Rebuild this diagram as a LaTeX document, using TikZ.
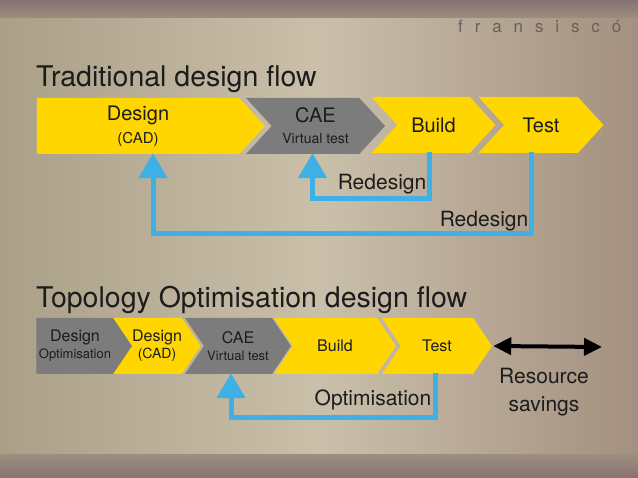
\documentclass[tikz,border=0pt]{standalone}
\usepackage{fontspec}
\setmainfont{TeX Gyre Heros}
\usetikzlibrary{shapes.symbols,arrows.meta}

\definecolor{stageyellow}{RGB}{255,214,0}
\definecolor{stagegrey}{RGB}{124,124,124}
\definecolor{loopblue}{RGB}{62,176,230}
\definecolor{inkdark}{RGB}{28,28,28}
\definecolor{bgleft}{RGB}{170,160,136}
\definecolor{bgmid}{RGB}{202,192,170}
\definecolor{bgright}{RGB}{164,144,128}
\definecolor{bgband}{RGB}{136,114,112}
\definecolor{brandgrey}{RGB}{104,96,96}

\tikzset{
  stage/.style={signal, signal to=east, signal from=west, signal pointer angle=95,
    minimum height=56pt, inner sep=0pt, align=center, text=inkdark,
    font=\fontsize{20}{23}\selectfont},
  first/.style={signal from=nowhere},
  small stage/.style={signal pointer angle=112, font=\fontsize{16}{17}\selectfont},
  yellowstage/.style={stage, fill=stageyellow},
  greystage/.style={stage, fill=stagegrey},
  title/.style={anchor=base west, inner sep=0pt, text=inkdark, font=\fontsize{28.5}{30}\selectfont},
  note/.style={inner sep=0pt, text=inkdark, align=center, font=\fontsize{21}{28}\selectfont},
  loopback/.style={draw=loopblue, line width=5pt, line join=miter,
    -{Triangle[width=28pt,length=25pt]}},
  span/.style={draw=black, line width=4pt, {Triangle[width=17pt,length=18pt]}-{Triangle[width=17pt,length=18pt]}}
}

\begin{document}
\begin{tikzpicture}[x=1pt,y=-1pt]
\useasboundingbox (0,0) rectangle (638,478);

% backdrop (blurred drawing on the desk)
\shade[left color=bgleft, right color=bgright, middle color=bgmid] (0,0) rectangle (638,478);
\shade[top color=bgband, bottom color=bgleft!60!bgband] (0,0) rectangle (638,18);
\shade[top color=bgleft!60!bgband, bottom color=bgband] (0,455) rectangle (638,478);

% name in the corner
\node[anchor=base west, inner sep=0pt, text=brandgrey,
  font=\fontsize{17}{17}\selectfont\addfontfeature{LetterSpace=70}] (brand) at (458,33) {fransiscó};

% traditional flow
\node[title] (tradtitle) at (36,87) {Traditional design flow};

\node[yellowstage, first, minimum width=228pt] (design) at (138,126)
  {Design\\{\fontsize{15}{16}\selectfont (CAD)}};
\node[greystage, minimum width=139pt] (cae) at (315.5,126)
  {CAE\\[-2pt]{\fontsize{14}{16}\selectfont Virtual test}};
\node[yellowstage, minimum width=124pt] (build) at (433.5,125) {Build};
\node[yellowstage, minimum width=125pt] (test) at (541,125) {Test};

% redesign loops
\draw[loopback] ([xshift=-4pt,yshift=1pt]build.south) -- ++(0,46) -| ([xshift=-3pt,yshift=1pt]cae.south);
\draw[loopback] ([xshift=-10pt,yshift=1pt]test.south) -- ++(0,81) -| ([xshift=15pt,yshift=1pt]design.south);
\node[note] (redesignA) at (382,184) {Redesign};
\node[note] (redesignB) at (484,221) {Redesign};

% topology optimisation flow
\node[title] (topotitle) at (36,308) {Topology Optimisation design flow};

\node[greystage, small stage, first, minimum width=96pt] (optim) at (75,346)
  {Design\\{\fontsize{13}{14}\selectfont Optimisation}};
\node[yellowstage, small stage, minimum width=86pt] (cad) at (157,346)
  {Design\\{\fontsize{14}{14}\selectfont (CAD)}};
\node[greystage, small stage, minimum width=106pt] (virtual) at (238,346)
  {CAE\\{\fontsize{13}{14}\selectfont Virtual test}};
\node[yellowstage, small stage, minimum width=122pt] (make) at (335,346) {Build};
\node[yellowstage, small stage, minimum width=110pt] (check) at (437,346) {Test};

% optimisation loop
\draw[loopback] ([xshift=-2pt,yshift=1pt]check.south) -- ++(0,44) -| ([xshift=-7pt,yshift=1pt]virtual.south);
\node[note] (optimnote) at (373,400) {Optimisation};

% savings
\coordinate (spanend) at (602,347);
\draw[span] ([xshift=1pt]check.east) -- (spanend);
\node[note] (savings) at (544,392) {Resource\\savings};

\end{tikzpicture}
\end{document}
